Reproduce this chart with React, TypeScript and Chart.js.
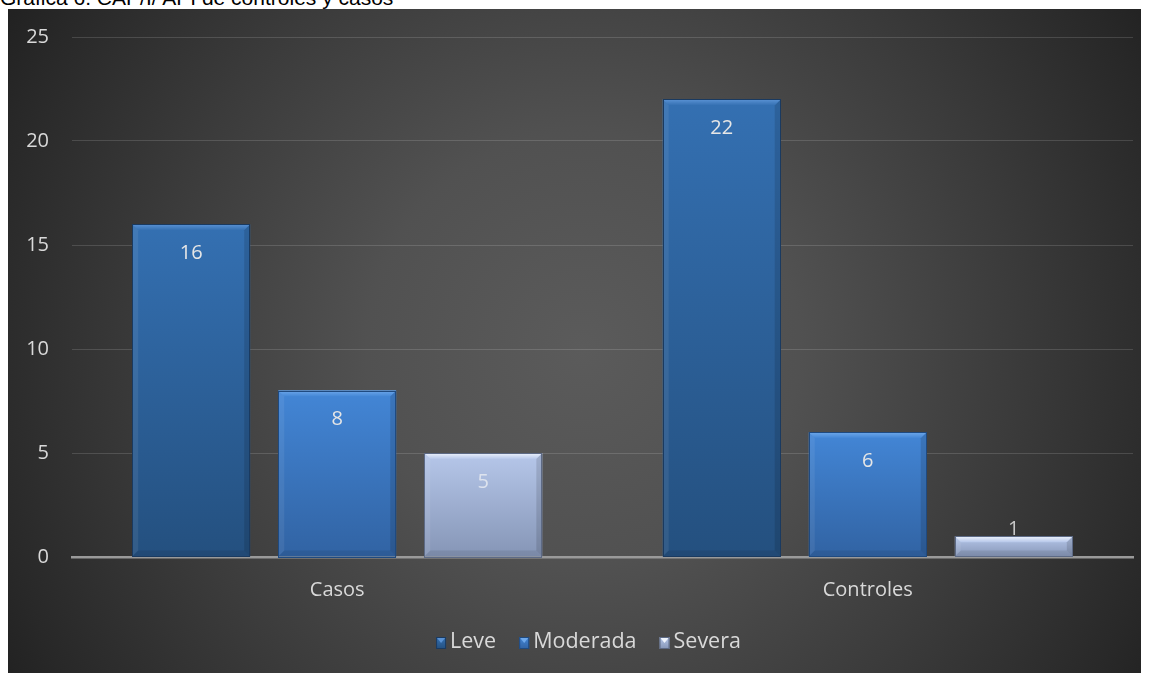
import React, { useEffect, useRef } from "react";
import { Chart, registerables } from "chart.js";
Chart.register(...registerables);

const TITLE = "Gráfica 6. CAP/I/ API de controles y casos";
const categories = ["Casos", "Controles"];
const seriesNames = ["Leve", "Moderada", "Severa"];
const leve = [16, 22];
const moderada = [8, 6];
const severa = [5, 1];
const yMin = 0;
const yMax = 25;
const yStep = 5;

const palette = [
  { top: "#3470b2", bottom: "#24507f", bevel: "#5a92d4", edge: "#1a3a60", label: "#e6e6e6" },
  { top: "#4386d6", bottom: "#3163a3", bevel: "#6ea8ea", edge: "#1f4a80", label: "#e6e6e6" },
  { top: "#b6c7ea", bottom: "#8595b6", bevel: "#eef3fc", edge: "#5d6a85", label: "#dde3ee" },
];

const FONT = "'Open Sans', 'Noto Sans', sans-serif";
const FS = 20;
const LEGEND_FS = 21.5;
const W = 1133;
const H = 664;

const bgPlugin = {
  id: "bgPlugin",
  beforeDraw(chart: any) {
    const { ctx, width, height } = chart;
    ctx.save();
    const g = ctx.createRadialGradient(575, 340, 0, 575, 340, 720);
    g.addColorStop(0, "#5b5b5b");
    g.addColorStop(0.3, "#515151");
    g.addColorStop(0.6, "#3b3b3b");
    g.addColorStop(0.85, "#282828");
    g.addColorStop(1, "#1b1b1b");
    ctx.fillStyle = g;
    ctx.fillRect(0, 0, width, height);
    ctx.restore();
  },
};

const bevelPlugin = {
  id: "bevelPlugin",
  afterDatasetsDraw(chart: any) {
    const { ctx } = chart;
    chart.data.datasets.forEach((ds: any, di: number) => {
      const meta = chart.getDatasetMeta(di);
      const pal = palette[di];
      meta.data.forEach((el: any, i: number) => {
        const l = el.x - el.width / 2;
        const r = el.x + el.width / 2;
        const t = el.y;
        const b = el.base;
        const h = b - t;
        const bv = Math.min(6, h / 3);
        ctx.save();
        const tg = ctx.createLinearGradient(0, t, 0, t + bv);
        tg.addColorStop(0, pal.bevel);
        tg.addColorStop(1, pal.top);
        ctx.fillStyle = tg;
        ctx.beginPath();
        ctx.moveTo(l, t);
        ctx.lineTo(r, t);
        ctx.lineTo(r - bv, t + bv);
        ctx.lineTo(l + bv, t + bv);
        ctx.closePath();
        ctx.fill();
        ctx.fillStyle = "rgba(255,255,255,0.07)";
        ctx.beginPath();
        ctx.moveTo(l, t);
        ctx.lineTo(l + bv, t + bv);
        ctx.lineTo(l + bv, b - bv);
        ctx.lineTo(l, b);
        ctx.closePath();
        ctx.fill();
        ctx.fillStyle = "rgba(0,0,0,0.12)";
        ctx.beginPath();
        ctx.moveTo(r, t);
        ctx.lineTo(r - bv, t + bv);
        ctx.lineTo(r - bv, b - bv);
        ctx.lineTo(r, b);
        ctx.closePath();
        ctx.fill();
        ctx.fillStyle = "rgba(0,0,0,0.08)";
        ctx.beginPath();
        ctx.moveTo(l, b);
        ctx.lineTo(l + bv, b - bv);
        ctx.lineTo(r - bv, b - bv);
        ctx.lineTo(r, b);
        ctx.closePath();
        ctx.fill();
        ctx.strokeStyle = pal.edge;
        ctx.lineWidth = 1;
        ctx.strokeRect(Math.round(l) + 0.5, Math.round(t) + 0.5, Math.round(r - l) - 1, Math.round(h));
        ctx.restore();

        const v = ds.data[i];
        ctx.save();
        ctx.font = `${FS}px ${FONT}`;
        ctx.textAlign = "center";
        ctx.textBaseline = "middle";
        let ly = t + 29;
        let color = pal.label;
        if (h < 56) {
          ly = t - 7;
          color = "#c8c8c8";
        }
        ctx.fillStyle = color;
        ctx.fillText(String(v), el.x, ly);
        ctx.restore();
      });
    });
  },
};

const legendPlugin = {
  id: "customLegend",
  afterDraw(chart: any) {
    const { ctx, chartArea } = chart;
    ctx.save();
    ctx.font = `${LEGEND_FS}px ${FONT}`;
    ctx.textBaseline = "middle";
    const box = 10;
    const gap = 4;
    const itemGap = 23;
    const items = chart.data.datasets.map((d: any) => d.label as string);
    const widths = items.map((s: string) => box + gap + ctx.measureText(s).width);
    const total = widths.reduce((a: number, b: number) => a + b, 0) + itemGap * (items.length - 1);
    const cx = (chartArea.left + chartArea.right) / 2 - 14;
    const cy = 633;
    let x = cx - total / 2;
    items.forEach((s: string, i: number) => {
      const pal = palette[i];
      const by = cy - 5;
      const bh = 12;
      const g = ctx.createLinearGradient(0, by, 0, by + bh);
      g.addColorStop(0, pal.top);
      g.addColorStop(1, pal.bottom);
      ctx.fillStyle = g;
      ctx.fillRect(x, by, box, bh);
      ctx.fillStyle = pal.bevel;
      ctx.beginPath();
      ctx.moveTo(x + 1, by + 1);
      ctx.lineTo(x + box - 1, by + 1);
      ctx.lineTo(x + box / 2, by + box / 2 + 1);
      ctx.closePath();
      ctx.fill();
      ctx.strokeStyle = pal.edge;
      ctx.lineWidth = 1;
      ctx.strokeRect(x + 0.5, by + 0.5, box - 1, bh - 1);
      ctx.fillStyle = "#d9d9d9";
      ctx.textAlign = "left";
      ctx.fillText(s, x + box + gap, cy);
      x += widths[i] + itemGap;
    });
    ctx.restore();
  },
};

function barGradient(di: number) {
  return (context: any) => {
    const chart = context.chart;
    const pal = palette[di];
    const ys = chart.scales && chart.scales.y;
    if (!chart.chartArea || !ys || context.type !== "data") return pal.top;
    const v = context.raw as number;
    const top = ys.getPixelForValue(v);
    const base = ys.getPixelForValue(0);
    if (!isFinite(top) || !isFinite(base) || base - top < 1) return pal.top;
    const g = chart.ctx.createLinearGradient(0, top, 0, base);
    g.addColorStop(0, pal.top);
    g.addColorStop(1, pal.bottom);
    return g;
  };
}

export default function App() {
  const ref = useRef<HTMLCanvasElement | null>(null);
  useEffect(() => {
    if (!ref.current) return;
    const seriesData = [leve, moderada, severa];
    const chart = new Chart(ref.current, {
      type: "bar",
      data: {
        labels: categories,
        datasets: seriesNames.map((name, di) => ({
          label: name,
          data: seriesData[di],
          backgroundColor: barGradient(di),
          borderWidth: 0,
          categoryPercentage: 0.826,
          barPercentage: 0.808,
        })),
      },
      options: {
        responsive: false,
        animation: false,
        devicePixelRatio: 1,
        layout: { padding: { top: 28, right: 8, bottom: 0, left: 0 } },
        plugins: {
          legend: { display: false },
          tooltip: { enabled: false },
          title: { display: false },
        },
        scales: {
          x: {
            grid: { display: false, drawTicks: false },
            border: { display: true, color: "#9a9a9a", width: 2.5 },
            ticks: { color: "#d9d9d9", font: { family: FONT, size: FS }, padding: 21 },
            afterFit: (s: any) => {
              s.height = 116;
              s.paddingLeft = 0;
              s.paddingRight = 0;
            },
          },
          y: {
            min: yMin,
            max: yMax,
            ticks: { stepSize: yStep, color: "#d9d9d9", font: { family: FONT, size: FS }, padding: 23 },
            grid: {
              drawTicks: false,
              color: (c: any) => (c.tick && c.tick.value === 0 ? "rgba(0,0,0,0)" : "rgba(255,255,255,0.14)"),
              lineWidth: 1,
            },
            border: { display: false },
            afterFit: (s: any) => {
              s.width = 64;
              s.paddingTop = 0;
              s.paddingBottom = 0;
            },
          },
        },
      },
      plugins: [bgPlugin, bevelPlugin, legendPlugin],
    } as any);
    return () => chart.destroy();
  }, []);

  return (
    <div style={{ position: "absolute", left: 0, top: 0, width: 1149, height: 673, overflow: "hidden", background: "#fff" }}>
      <div
        style={{
          position: "absolute",
          left: 0,
          top: -12,
          fontFamily: "'Liberation Sans', Arial, sans-serif",
          fontSize: 21,
          lineHeight: "20px",
          color: "#000",
          whiteSpace: "nowrap",
        }}
      >
        {TITLE}
      </div>
      <canvas ref={ref} width={W} height={H} style={{ position: "absolute", left: 8, top: 9, width: W, height: H }} />
    </div>
  );
}
